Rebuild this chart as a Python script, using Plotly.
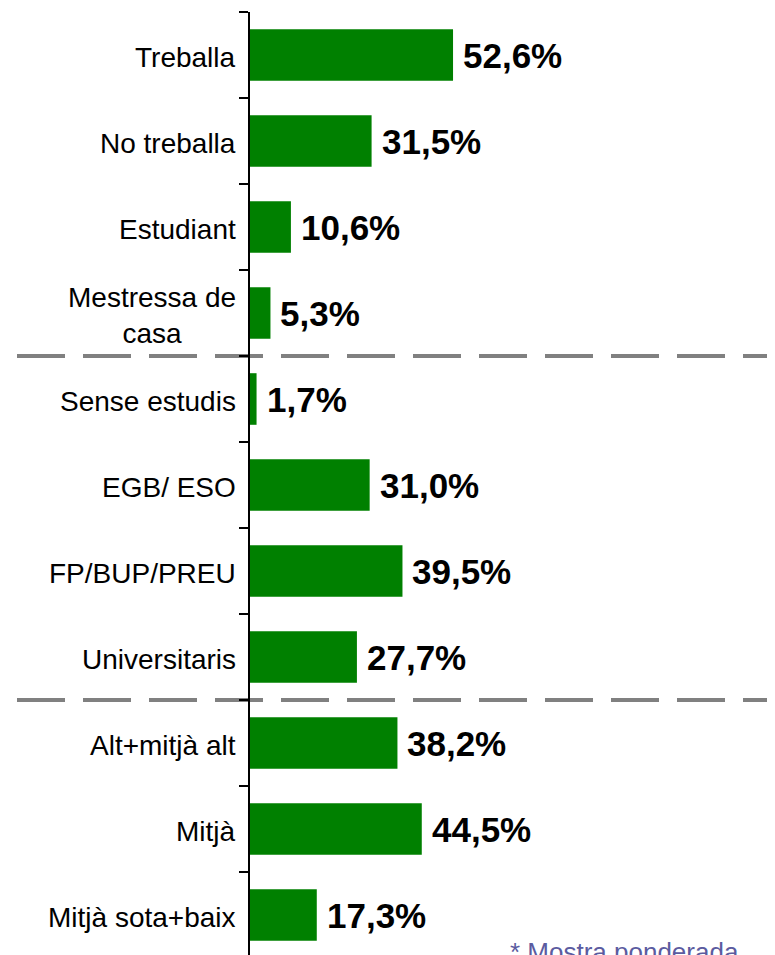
import plotly.graph_objects as go

# ── data ────────────────────────────────────────────────────────────────
categories = [
    "Treballa",
    "No treballa",
    "Estudiant",
    "Mestressa de<br>casa",
    "Sense estudis",
    "EGB/ ESO",
    "FP/BUP/PREU",
    "Universitaris",
    "Alt+mitjà alt",
    "Mitjà",
    "Mitjà sota+baix",
]
values = [52.6, 31.5, 10.6, 5.3, 1.7, 31.0, 39.5, 27.7, 38.2, 44.5, 17.3]
group_sizes = [4, 4, 3]
footnote = "* Mostra ponderada"

FONT = "Liberation Sans, Arial, sans-serif"
W, H = 775, 955
OFF = 8  # page body margin
M_L, M_T, M_B = 250 - OFF, 12 - OFF, OFF
band = 86
plot_w = W - M_L
plot_h = H - M_T - M_B
n_visible = plot_h / band

fig = go.Figure(
    go.Bar(
        x=values,
        y=categories,
        orientation="h",
        marker=dict(color="#008000", line=dict(width=0)),
        hoverinfo="skip",
    )
)

# category labels (centred lines, right-anchored next to the axis)
for cat in categories:
    fig.add_annotation(
        x=0, y=cat, xref="paper", yref="y",
        text=cat, showarrow=False, xanchor="right", yanchor="middle",
        align="center", xshift=-12, yshift=-2,
        font=dict(family=FONT, size=28, color="black"),
    )

# value labels at the bar ends
for cat, v in zip(categories, values):
    fig.add_annotation(
        x=v, y=cat, xref="x", yref="y",
        text=f"<b>{v:.1f}%</b>".replace(".", ","),
        showarrow=False, xanchor="left", yanchor="middle", xshift=8,
        font=dict(family=FONT, size=35, color="black"),
    )

# dashed separators between the groups
x0_paper = (17 - 250) / plot_w
pos = -0.5
for size in group_sizes[:-1]:
    pos += size
    fig.add_shape(
        type="line", xref="paper", yref="y", x0=x0_paper, x1=1, y0=pos, y1=pos,
        line=dict(color="#808080", width=4, dash="48px,18px"), layer="below",
    )

fig.add_annotation(
    xref="paper", yref="paper", x=(508 - 250) / plot_w, y=3 / plot_h,
    text=footnote, showarrow=False, xanchor="left", yanchor="middle",
    font=dict(family=FONT, size=26, color="#5b5ba0"),
)

fig.update_layout(
    width=W, height=H,
    margin=dict(l=M_L, r=0, t=M_T, b=M_B, pad=0),
    paper_bgcolor="white", plot_bgcolor="white",
    bargap=0.4, showlegend=False,
    xaxis=dict(visible=False, range=[0, plot_w / 3.86], fixedrange=True),
    yaxis=dict(
        type="category",
        range=[n_visible - 0.5, -0.5],
        showline=True, linecolor="black", linewidth=1.5,
        ticks="outside", tickson="boundaries", ticklen=9, tickwidth=1.5, tickcolor="black",
        showgrid=False, zeroline=False, showticklabels=False,
    ),
)

fig.write_html("out.html")
